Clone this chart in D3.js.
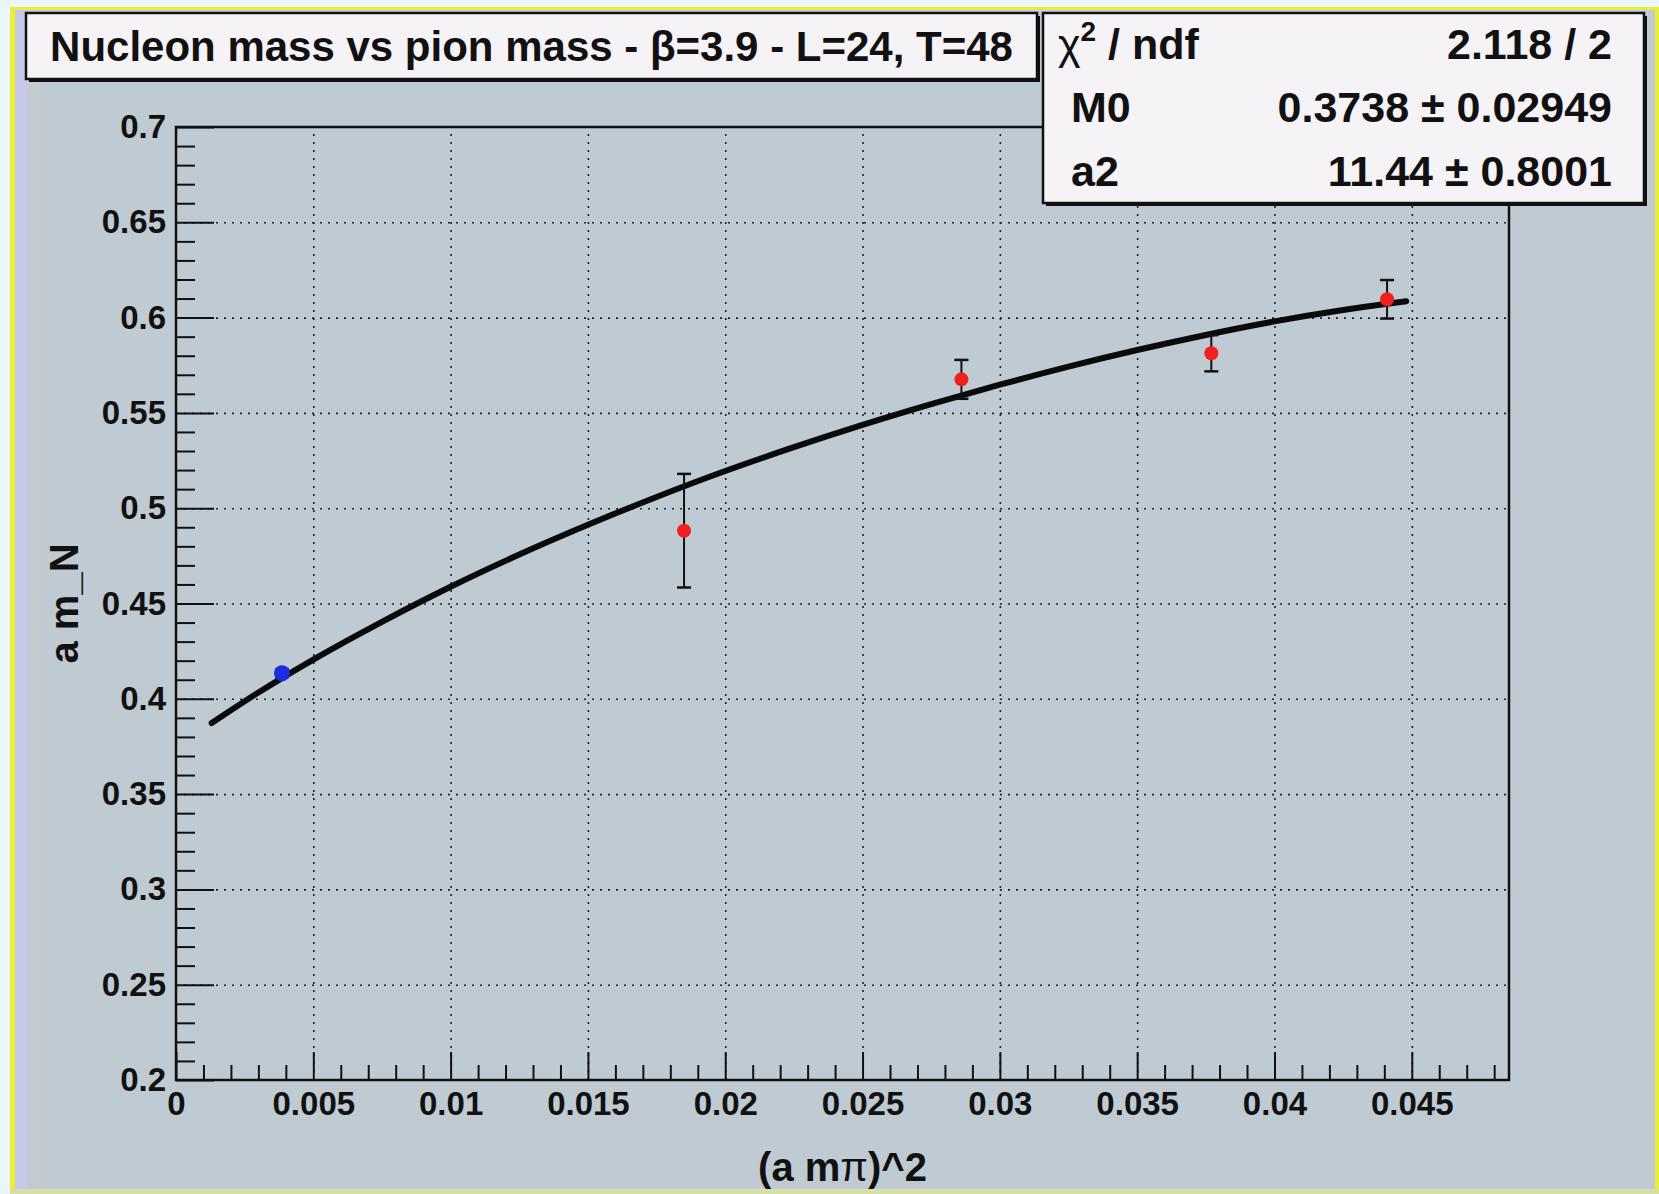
<!DOCTYPE html>
<html>
<head>
<meta charset="utf-8">
<script src="https://cdn.jsdelivr.net/npm/d3@7"></script>
<style>
  body { margin: 0; background: #eaf7fa; }
  svg { display: block; }
  text { font-family: "Liberation Sans", Arial, Helvetica, sans-serif; font-weight: bold; fill: #111; }
</style>
</head>
<body>
<svg id="chart"></svg>
<script>
// tick values
const xMajorTicks = [0, 0.005, 0.01, 0.015, 0.02, 0.025, 0.03, 0.035, 0.04, 0.045];
const xTickLabels = ["0", "0.005", "0.01", "0.015", "0.02", "0.025", "0.03", "0.035", "0.04", "0.045"];
const yMajorTicks = [0.2, 0.25, 0.3, 0.35, 0.4, 0.45, 0.5, 0.55, 0.6, 0.65, 0.7];
const yTickLabels = ["0.2", "0.25", "0.3", "0.35", "0.4", "0.45", "0.5", "0.55", "0.6", "0.65", "0.7"];

// lattice points used in the fit (red)
const fitPointX = [0.0185, 0.0286, 0.0377, 0.0441];
const fitPointY = [0.4882, 0.5676, 0.5813, 0.6096];
const fitPointErr = [0.0298, 0.0102, 0.0095, 0.0101];

// extrapolated point (blue)
const physPointX = [0.00386];
const physPointY = [0.4134];
const physPointErr = [0.002];

// fit curve
const curveX = [0.0013, 0.003, 0.005, 0.0075, 0.01, 0.0125, 0.015, 0.0175, 0.02, 0.0225,
                0.025, 0.0275, 0.03, 0.0325, 0.035, 0.0375, 0.04, 0.0425, 0.0441, 0.0448];
const curveY = [0.3873, 0.4033, 0.4206, 0.4404, 0.4588, 0.4757, 0.4913, 0.5059, 0.5195, 0.5320,
                0.5437, 0.5546, 0.5648, 0.5743, 0.5830, 0.5909, 0.5980, 0.6040, 0.6073, 0.6086];

const titleText = "Nucleon mass vs pion mass - \u03B2=3.9 - L=24, T=48";
const statRows = [
    {name: "ndf", value: "2.118 / 2", chi: true},
    {name: "M0", value: "0.3738 \u00B1 0.02949"},
    {name: "a2", value: "11.44 \u00B1 0.8001"}
];

const W = 1659, H = 1194;
const frame = {left: 176, right: 1509, top: 127, bottom: 1080};
const bg = "#bfcad2";

const svg = d3.select("#chart").attr("width", W).attr("height", H);

// canvas background and border bands
svg.append("rect").attr("width", W).attr("height", H).attr("fill", "#e9f7fa");
svg.append("rect").attr("x", 10).attr("y", 7).attr("width", W - 10).attr("height", H - 7)
    .attr("fill", "#eeee30");
svg.append("rect").attr("x", 15).attr("y", 10).attr("width", W - 19).attr("height", H - 15)
    .attr("fill", "#c6c9ea");
svg.append("rect").attr("x", 27).attr("y", 12).attr("width", W - 31).attr("height", H - 18)
    .attr("fill", "#c3cbd0");
svg.append("rect").attr("x", 40).attr("y", 14).attr("width", W - 44).attr("height", H - 20)
    .attr("fill", bg);
svg.append("rect").attr("x", 10).attr("y", H - 5).attr("width", W - 10).attr("height", 5)
    .attr("fill", "#d7dfa4");

const x = d3.scaleLinear().domain([0, 0.04854]).range([frame.left, frame.right]);
const y = d3.scaleLinear().domain([0.2, 0.7]).range([frame.bottom, frame.top]);
const fw = frame.right - frame.left, fh = frame.bottom - frame.top;

// grid
svg.append("g")
    .attr("transform", "translate(0," + frame.bottom + ")")
    .call(d3.axisBottom(x).tickValues(xMajorTicks.slice(1)).tickSize(-fh).tickFormat(""))
    .call(g => g.select(".domain").remove())
    .selectAll("line").attr("stroke", "#222").attr("stroke-width", 1.6).attr("stroke-dasharray", "2,6");
svg.append("g")
    .attr("transform", "translate(" + frame.left + ",0)")
    .call(d3.axisLeft(y).tickValues(yMajorTicks.slice(1, -1)).tickSize(-fw).tickFormat(""))
    .call(g => g.select(".domain").remove())
    .selectAll("line").attr("stroke", "#222").attr("stroke-width", 1.6).attr("stroke-dasharray", "2,6");

// frame
svg.append("rect")
    .attr("x", frame.left).attr("y", frame.top).attr("width", fw).attr("height", fh)
    .attr("fill", "none").attr("stroke", "#111").attr("stroke-width", 2.5);

// minor ticks
const xMinor = d3.range(1, 49).map(i => i / 1000).filter(v => Math.round(v * 1000) % 5 !== 0);
const yMinor = d3.range(21, 70).map(i => i / 100).filter(v => Math.round(v * 100) % 5 !== 0);

svg.append("g")
    .attr("transform", "translate(0," + frame.bottom + ")")
    .call(d3.axisBottom(x).tickValues(xMinor).tickSize(-15).tickFormat(""))
    .call(g => g.select(".domain").remove())
    .selectAll("line").attr("stroke", "#111").attr("stroke-width", 2);
svg.append("g")
    .attr("transform", "translate(" + frame.left + ",0)")
    .call(d3.axisLeft(y).tickValues(yMinor).tickSize(-19).tickFormat(""))
    .call(g => g.select(".domain").remove())
    .selectAll("line").attr("stroke", "#111").attr("stroke-width", 2);

// major ticks + labels
const xAxis = svg.append("g")
    .attr("transform", "translate(0," + frame.bottom + ")")
    .call(d3.axisBottom(x).tickValues(xMajorTicks).tickSize(-28).tickPadding(12)
        .tickFormat((d, i) => xTickLabels[i]));
xAxis.select(".domain").remove();
xAxis.selectAll("line").attr("stroke", "#111").attr("stroke-width", 2);
xAxis.selectAll("text").style("font-size", "33px").attr("fill", "#111");

const yAxis = svg.append("g")
    .attr("transform", "translate(" + frame.left + ",0)")
    .call(d3.axisLeft(y).tickValues(yMajorTicks).tickSize(-38).tickPadding(10)
        .tickFormat((d, i) => yTickLabels[i]));
yAxis.select(".domain").remove();
yAxis.selectAll("line").attr("stroke", "#111").attr("stroke-width", 2);
yAxis.selectAll("text").style("font-size", "33px").attr("fill", "#111");

// axis titles
const xTitle = svg.append("text")
    .attr("x", (frame.left + frame.right) / 2).attr("y", 1181)
    .attr("text-anchor", "middle").style("font-size", "40px");
xTitle.append("tspan").text("(a m");
xTitle.append("tspan").text("\u03C0").style("font-weight", "normal");
xTitle.append("tspan").text(")^2");

svg.append("text")
    .attr("transform", "translate(78," + ((frame.top + frame.bottom) / 2) + ") rotate(-90)")
    .attr("text-anchor", "middle").style("font-size", "40px")
    .text("a m_N");

// fit curve
const line = d3.line().x((d, i) => x(curveX[i])).y(d => y(d)).curve(d3.curveMonotoneX);
svg.append("path")
    .datum(curveY)
    .attr("d", line)
    .attr("fill", "none").attr("stroke", "#0a0a0a").attr("stroke-width", 6)
    .attr("stroke-linecap", "round");

// error bars and markers
function drawPoints(xs, ys, errs, color, r) {
    const g = svg.append("g");
    const pts = xs.map((v, i) => ({x: v, y: ys[i], e: errs[i]}));
    g.selectAll(".err").data(pts).enter().append("line")
        .attr("x1", d => x(d.x)).attr("x2", d => x(d.x))
        .attr("y1", d => y(d.y - d.e)).attr("y2", d => y(d.y + d.e))
        .attr("stroke", "#111").attr("stroke-width", 2);
    [-1, 1].forEach(s => {
        g.selectAll(".cap" + s).data(pts).enter().append("line")
            .attr("x1", d => x(d.x) - 7).attr("x2", d => x(d.x) + 7)
            .attr("y1", d => y(d.y + s * d.e)).attr("y2", d => y(d.y + s * d.e))
            .attr("stroke", "#111").attr("stroke-width", 2.5);
    });
    g.selectAll(".mk").data(pts).enter().append("circle")
        .attr("cx", d => x(d.x)).attr("cy", d => y(d.y)).attr("r", r)
        .attr("fill", color);
}
drawPoints(fitPointX, fitPointY, fitPointErr, "#f02020", 7);
drawPoints(physPointX, physPointY, physPointErr, "#1a2ee0", 8);

// boxes
function pave(x0, y0, w, h) {
    svg.append("rect").attr("x", x0 + 3).attr("y", y0 + 3).attr("width", w).attr("height", h)
        .attr("fill", "#111");
    svg.append("rect").attr("x", x0).attr("y", y0).attr("width", w).attr("height", h)
        .attr("fill", "#f6f3f7").attr("stroke", "#111").attr("stroke-width", 2.5);
}

pave(26, 13, 1011, 66);
svg.append("text").attr("x", 26 + 1011 / 2).attr("y", 61)
    .attr("text-anchor", "middle").style("font-size", "42px").text(titleText);

const stat = {x: 1043, y: 13, w: 601, h: 190};
pave(stat.x, stat.y, stat.w, stat.h);
const rowH = stat.h / statRows.length;
statRows.forEach((r, i) => {
    const by = stat.y + rowH * i + 46;
    const t = svg.append("text").attr("x", stat.x + 15).attr("y", by).style("font-size", "43px");
    if (r.chi) {
        t.append("tspan").text("\u03C7").style("font-weight", "normal");
        t.append("tspan").text("2").attr("dy", -18).style("font-size", "28px");
        t.append("tspan").text(" / ndf").attr("dy", 18);
    } else {
        t.text(r.name);
        t.attr("x", stat.x + 28);
    }
    svg.append("text").attr("x", stat.x + stat.w - 32).attr("y", by)
        .attr("text-anchor", "end").style("font-size", "43px").text(r.value);
});
</script>
</body>
</html>
